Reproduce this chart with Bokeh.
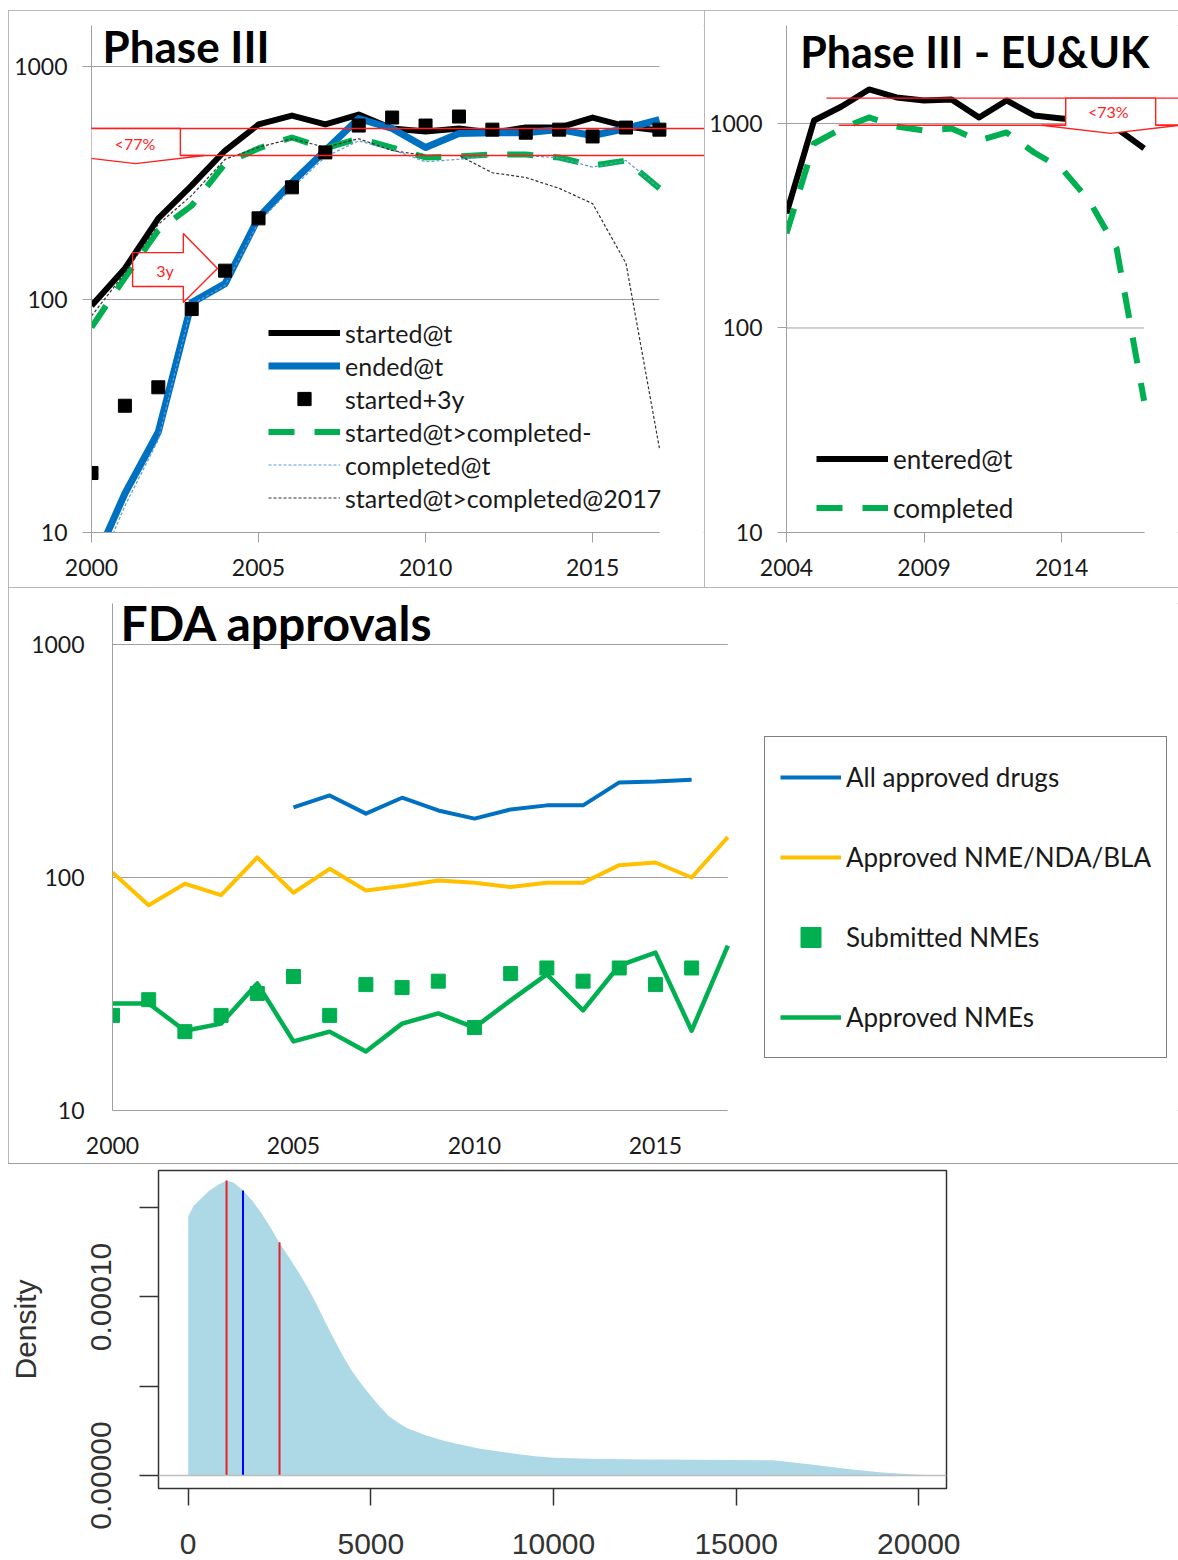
from bokeh.plotting import figure
from bokeh.models import (Range1d, FixedTicker, PrintfTickFormatter, Legend, LegendItem,
                          Label, PolyAnnotation, Span)
from bokeh.layouts import column, row
from bokeh.embed import file_html
from bokeh.resources import INLINE

# ---------------- Phase III (all) ----------------
years_a = list(range(2000, 2018))
started_at_t = [94, 136, 223, 309, 436, 564, 616, 564, 622, 542, 526, 542, 520, 547, 547, 604, 553, 531]
ended_at_t = [7, 14.7, 27, 97, 117, 225, 318, 436, 598, 542, 449, 516, 520, 520, 536, 506, 542, 592]
started_plus_3y = [18, 35, 42, 91, 133, 223, 303, 428, 558, 604, 558, 610, 536, 520, 536, 501, 547, 536]
started_completed_minus = [76, 124, 198, 253, 383, 445, 496, 445, 491, 449, 407, 411, 419, 419, 407, 376, 395, 300]
completed_at_t = [6, 13, 25, 95, 115, 215, 300, 410, 480, 440, 390, 400, 415, 415, 405, 370, 395, 300]
started_completed_2017 = [85, 130, 210, 280, 400, 450, 490, 450, 490, 436, 415, 415, 350, 334, 300, 258, 143, 23]
a_level_started = 542
a_level_completed = 415

# ---------------- Phase III EU&UK ----------------
years_b = list(range(2004, 2018))
entered_at_t = [363, 1034, 1211, 1466, 1340, 1296, 1310, 1070, 1296, 1094, 1058, 1030, 946, 755]
completed_b = [290, 798, 945, 1070, 967, 924, 945, 826, 904, 721, 603, 420, 245, 44]
b_level_entered = 1330
b_level_completed = 980

# ---------------- FDA approvals ----------------
years_fda = list(range(2000, 2018))
years_all_approved = list(range(2005, 2017))
all_approved = [200, 225, 188, 220, 194, 179, 196, 204, 204, 256, 258, 263]
approved_nme_nda_bla = [105, 76, 94, 84, 122, 86, 109, 88, 92, 97, 95, 91, 95, 95, 113, 116, 100, 149]
years_submitted = list(range(2000, 2017))
submitted_nmes = [25.6, 29.9, 21.8, 25.6, 31.8, 37.6, 25.6, 34.7, 33.7, 35.9, 22.7, 38.7, 40.9, 35.9, 40.9, 34.7, 40.9]
approved_nmes = [28.8, 28.8, 22.0, 23.6, 35.1, 19.8, 21.8, 17.9, 23.6, 26.1, 22.7, 29.7, 38.4, 26.9, 41.9, 47.6, 22.0, 51]

# ---------------- Density ----------------
cost_x = [0, 150, 350, 550, 800, 1050, 1250, 1500, 1750, 2000, 2250, 2500, 2750, 3000, 3250, 3500,
          3750, 4000, 4250, 4500, 4750, 5000, 5250, 5500, 5750, 6000, 6500, 7000, 7500, 8000, 8500,
          9000, 9500, 10000, 11000, 12500, 14000, 16000, 17000, 18000, 19000, 20000, 20700]
density = [1.45e-4, 1.51e-4, 1.55e-4, 1.59e-4, 1.625e-4, 1.652e-4, 1.64e-4, 1.596e-4, 1.54e-4, 1.47e-4,
           1.39e-4, 1.30e-4, 1.225e-4, 1.145e-4, 1.06e-4, 0.965e-4, 0.86e-4, 0.76e-4, 0.665e-4,
           0.58e-4, 0.51e-4, 0.445e-4, 0.385e-4, 0.33e-4, 0.295e-4, 0.265e-4, 0.225e-4, 0.195e-4,
           0.17e-4, 0.15e-4, 0.134e-4, 0.12e-4, 0.108e-4, 0.099e-4, 0.093e-4, 0.09e-4, 0.088e-4,
           0.085e-4, 0.063e-4, 0.038e-4, 0.017e-4, 0.004e-4, 0.0]
interval_x = [1050, 2500]
interval_top = [1.652e-4, 1.306e-4]
center_x = [1500]
center_top = [1.596e-4]

log_ticks = [10, 100, 1000]

FONT = "Lato"
GRID = "#A0A0A0"
TXT = "#1a1a1a"
RED = "#FF1E1E"
BLUE = "#0070C0"
GREEN = "#00B050"
YELLOW = "#FFC000"


def make_fig(w, h, xr, yr, mb, margin):
    p = figure(width=w, height=h, x_range=xr, y_range=yr, y_axis_type="log",
               output_backend="svg", toolbar_location=None,
               min_border_left=mb[0], min_border_right=mb[1],
               min_border_top=mb[2], min_border_bottom=mb[3])
    p.margin = margin
    p.styles = {"outline": "1px solid #A0A0A0", "outline-offset": "-1px"}
    p.outline_line_color = None
    p.background_fill_color = "white"
    p.border_fill_color = "white"
    return p


def excel_axes(p, xt, x0, x1, x_out, y_out, x_stand, y_stand, size="23px"):
    for ax in (p.xaxis[0], p.yaxis[0]):
        ax.axis_line_color = GRID
        ax.major_tick_line_color = GRID
        ax.minor_tick_line_color = None
        ax.major_tick_in = 0
        ax.major_label_text_font = FONT
        ax.major_label_text_font_size = size
        ax.major_label_text_color = TXT
        ax.formatter = PrintfTickFormatter(format="%d")
    p.xaxis[0].ticker = FixedTicker(ticks=xt)
    p.yaxis[0].ticker = FixedTicker(ticks=log_ticks)
    p.xaxis[0].bounds = (x0, x1)
    p.xaxis[0].major_tick_out = x_out
    p.yaxis[0].major_tick_out = y_out
    p.xaxis[0].major_label_standoff = x_stand
    p.yaxis[0].major_label_standoff = y_stand
    p.xgrid.visible = False
    p.ygrid.visible = False
    # horizontal gridlines limited to the plot-area width
    p.segment(x0=[x0] * len(log_ticks), x1=[x1] * len(log_ticks), y0=log_ticks, y1=log_ticks,
              line_color=GRID, line_width=1)


def title(p, x, y, text, size="44px"):
    p.add_layout(Label(x=x, y=y, text=text, text_font=FONT, text_font_style="bold",
                       text_font_size=size, text_color="black",
                       text_align="left", text_baseline="middle"))


def red_poly(p, xs, ys, fill=None):
    p.add_layout(PolyAnnotation(xs=xs, ys=ys, fill_color=fill if fill else "white",
                                fill_alpha=1 if fill else 0, line_color=RED, line_alpha=1,
                                line_width=1.4))


def red_text(p, x, y, text):
    p.add_layout(Label(x=x, y=y, text=text, text_font=FONT, text_font_size="16px",
                       text_color=RED, text_align="center", text_baseline="middle"))


# ================= Panel A =================
pA = make_fig(696, 577, Range1d(2000, 2018.35), Range1d(10, 1500), (83, 0, 15, 55), (10, 0, 0, 8))
excel_axes(pA, [2000, 2005, 2010, 2015], 2000, 2017, 10, 9, 16, 15)

red_poly(pA, [1999.97, 2018.4], [a_level_started, a_level_started])
red_poly(pA, [1999.25, 2018.4], [a_level_completed, a_level_completed])
red_poly(pA, [1999.97, 2002.66, 2002.66, 2003.38, 2001.32, 1999.25, 1999.97],
         [a_level_started, a_level_started, a_level_completed, a_level_completed, 383,
          a_level_completed, a_level_completed], fill="white")
red_text(pA, 2001.3, 468, "<77%")

rA1 = pA.line(years_a, started_at_t, line_color="black", line_width=6, line_join="round")
rA2 = pA.line(years_a, ended_at_t, line_color=BLUE, line_width=7, line_join="round")
rA4 = pA.line(years_a, started_completed_minus, line_color=GREEN, line_width=6,
              line_dash="26 20", line_join="round")
rA5 = pA.line(years_a, completed_at_t, line_color="#5B9BD5", line_width=1.2, line_dash="3 2")
rA6 = pA.line(years_a, started_completed_2017, line_color="#333333", line_width=1.2, line_dash="3 2")
rA3 = pA.scatter(years_a, started_plus_3y, marker="square", size=13, color="black")

red_poly(pA, [2001.23, 2002.75, 2002.75, 2003.77, 2002.75, 2002.75, 2001.23],
         [159, 159, 192, 136, 97.2, 113.7, 113.7])
red_text(pA, 2002.2, 133, "3y")

title(pA, 2000.33, 1230, "Phase III")

legA = Legend(items=[
    LegendItem(label="started@t", renderers=[rA1]),
    LegendItem(label="ended@t", renderers=[rA2]),
    LegendItem(label="started+3y", renderers=[rA3]),
    LegendItem(label="started@t>completed-", renderers=[rA4]),
    LegendItem(label="completed@t", renderers=[rA5]),
    LegendItem(label="started@t>completed@2017", renderers=[rA6]),
], location=(177, 18), glyph_width=72, glyph_height=33, label_height=33, spacing=0,
    padding=0, margin=0, label_standoff=5, border_line_color=None, background_fill_alpha=0,
    label_text_font=FONT, label_text_font_size="25px", label_text_color=TXT)
pA.add_layout(legA)

# ================= Panel B =================
pB = make_fig(474, 577, Range1d(2004, 2018.25), Range1d(10, 3013), (82, 0, 15, 55), (10, 0, 0, 0))
excel_axes(pB, [2004, 2009, 2014], 2004, 2017, 10, 9, 16, 15)

red_poly(pB, [2005.45, 2018.4], [b_level_entered, b_level_entered])
red_poly(pB, [2005.9, 2018.4], [b_level_completed, b_level_completed])

rB1 = pB.line(years_b, entered_at_t, line_color="black", line_width=6, line_join="round")
rB2 = pB.line(years_b, completed_b, line_color=GREEN, line_width=6, line_dash="26 20",
              line_join="round")

red_poly(pB, [2014.15, 2017.42, 2017.42, 2018.3, 2015.78, 2013.27, 2014.15],
         [b_level_entered, b_level_entered, b_level_completed, b_level_completed, 894,
          b_level_completed, b_level_completed], fill="white")
red_text(pB, 2015.7, 1145, "<73%")

title(pB, 2004.5, 2250, "Phase III - EU&UK", size="43px")

legB = Legend(items=[
    LegendItem(label="entered@t", renderers=[rB1]),
    LegendItem(label="completed", renderers=[rB2]),
], location=(30, 0), glyph_width=72, glyph_height=49, label_height=49, spacing=0,
    padding=0, margin=0, label_standoff=5, border_line_color=None, background_fill_alpha=0,
    label_text_font=FONT, label_text_font_size="26px", label_text_color=TXT)
pB.add_layout(legB)

# ================= Panel C =================
pC = make_fig(1170, 577, Range1d(2000, 2029.45), Range1d(10, 1500), (104, 0, 16, 54), (0, 0, 0, 8))
excel_axes(pC, [2000, 2005, 2010, 2015], 2000, 2017, 0, 0, 26, 28)

rC1 = pC.line(years_all_approved, all_approved, line_color=BLUE, line_width=4, line_join="round")
rC2 = pC.line(years_fda, approved_nme_nda_bla, line_color=YELLOW, line_width=4, line_join="round")
rC4 = pC.line(years_fda, approved_nmes, line_color=GREEN, line_width=4.5, line_join="round")
rC3 = pC.scatter(years_submitted, submitted_nmes, marker="square", size=14, color=GREEN)

title(pC, 2000.22, 1243, "FDA approvals", size="48px")

legC = Legend(items=[
    LegendItem(label="All approved drugs", renderers=[rC1]),
    LegendItem(label="Approved NME/NDA/BLA", renderers=[rC2]),
    LegendItem(label="Submitted NMEs", renderers=[rC3]),
    LegendItem(label="Approved NMEs", renderers=[rC4]),
], location=(652, 52), glyph_width=61, glyph_height=50, label_height=50, spacing=30,
    padding=15, margin=0, label_standoff=5, border_line_color="black", border_line_width=1,
    background_fill_color="white", background_fill_alpha=1,
    label_text_font=FONT, label_text_font_size="26px", label_text_color=TXT)
pC.add_layout(legC)

# ================= Panel D =================
RF = "Liberation Sans"
pD = figure(width=1178, height=396, x_range=Range1d(-813, 20758), y_range=Range1d(-7.3e-6, 1.708e-4),
            output_backend="svg", toolbar_location=None,
            min_border_left=158, min_border_right=232, min_border_top=6, min_border_bottom=72)
pD.styles = {"box-shadow": "8px -1px 0 0 #A0A0A0"}
pD.background_fill_color = "white"
pD.border_fill_color = "white"
pD.outline_line_color = "#333333"
pD.outline_line_width = 1.5
pD.grid.visible = False

pD.varea(x=cost_x, y1=[0] * len(cost_x), y2=density, fill_color="#ADD8E6")
pD.add_layout(Span(location=0, dimension="width", line_color="#BEBEBE", line_width=1.5))
pD.segment(x0=interval_x, y0=[0] * len(interval_x), x1=interval_x, y1=interval_top,
           line_color="#E8202A", line_width=2)
pD.segment(x0=center_x, y0=[0] * len(center_x), x1=center_x, y1=center_top,
           line_color="#0000FF", line_width=2)

for ax in (pD.xaxis[0], pD.yaxis[0]):
    ax.axis_line_color = None
    ax.major_tick_line_color = "#333333"
    ax.minor_tick_line_color = "#333333"
    ax.major_tick_line_width = 1.5
    ax.minor_tick_line_width = 1.5
    ax.major_tick_in = 0
    ax.minor_tick_in = 0
    ax.major_label_text_font = RF
    ax.major_label_text_font_size = "30px"
    ax.major_label_text_color = "#333333"
pD.xaxis[0].ticker = FixedTicker(ticks=[0, 5000, 10000, 15000, 20000])
pD.xaxis[0].formatter = PrintfTickFormatter(format="%d")
pD.xaxis[0].major_tick_out = 17
pD.xaxis[0].major_label_standoff = 28
pD.yaxis[0].ticker = FixedTicker(ticks=[0, 1e-4], minor_ticks=[5e-5, 1.5e-4])
pD.yaxis[0].formatter = PrintfTickFormatter(format="%.5f")
pD.yaxis[0].major_tick_out = 19
pD.yaxis[0].minor_tick_out = 19
pD.yaxis[0].major_label_standoff = 28
pD.yaxis[0].major_label_orientation = "vertical"
pD.yaxis[0].axis_label = "Density"
pD.yaxis[0].axis_label_text_font = RF
pD.yaxis[0].axis_label_text_font_size = "30px"
pD.yaxis[0].axis_label_text_font_style = "normal"
pD.yaxis[0].axis_label_text_color = "#333333"
pD.yaxis[0].axis_label_standoff = 47

layout = column(row(pA, pB), row(pC), row(pD))
open("out.html", "w").write(file_html(layout, INLINE))
